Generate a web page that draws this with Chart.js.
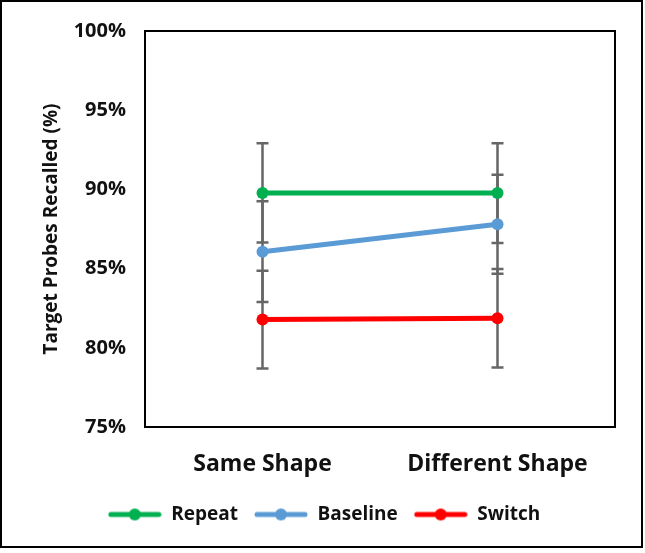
<!DOCTYPE html>
<html>
<head>
<meta charset="utf-8">
<script src="https://cdn.jsdelivr.net/npm/chart.js@4/dist/chart.umd.min.js"></script>
<style>
  html, body { margin: 0; padding: 0; background: #fff; }
  #wrap { width: 645px; height: 553px; }
</style>
</head>
<body>
<div id="wrap"><canvas id="recallChart" width="645" height="553"></canvas></div>
<script>
Chart.defaults.font.family = 'Open Sans';
Chart.defaults.font.weight = 'bold';
Chart.defaults.color = '#111';

const categories = ['Same Shape', 'Different Shape'];
const seriesNames = ['Repeat', 'Baseline', 'Switch'];
const seriesColors = ['#00b050', '#5b9bd5', '#ff0000'];

const repeatValues = [89.78, 89.77];
const baselineValues = [86.07, 87.8];
const switchValues = [81.78, 81.86];

const repeatErrors = [3.14, 3.15];
const baselineErrors = [3.18, 3.13];
const switchErrors = [3.09, 3.11];

const yTicks = [75, 80, 85, 90, 95, 100];

const allValues = [repeatValues, baselineValues, switchValues];
const allErrors = [repeatErrors, baselineErrors, switchErrors];

// legend marker: short line with a dot in the middle
function legendMarker(color) {
    const c = document.createElement('canvas');
    c.width = 54;
    c.height = 14;
    const g = c.getContext('2d');
    g.strokeStyle = color;
    g.lineWidth = 5;
    g.lineCap = 'round';
    g.beginPath();
    g.moveTo(3, 7);
    g.lineTo(51, 7);
    g.stroke();
    g.fillStyle = color;
    g.beginPath();
    g.arc(27, 7, 6, 0, Math.PI * 2);
    g.fill();
    return c;
}
const markers = seriesColors.map(legendMarker);

const errorBars = {
    id: 'errorBars',
    beforeDatasetsDraw(chart) {
        const ctx = chart.ctx;
        const y = chart.scales.y;
        ctx.save();
        ctx.strokeStyle = '#666';
        ctx.lineWidth = 2.5;
        chart.data.datasets.forEach((ds, i) => {
            const meta = chart.getDatasetMeta(i);
            meta.data.forEach((pt, j) => {
                const top = y.getPixelForValue(allValues[i][j] + allErrors[i][j]);
                const bot = y.getPixelForValue(allValues[i][j] - allErrors[i][j]);
                ctx.beginPath();
                ctx.moveTo(pt.x, top);
                ctx.lineTo(pt.x, bot);
                ctx.moveTo(pt.x - 6, top);
                ctx.lineTo(pt.x + 6, top);
                ctx.moveTo(pt.x - 6, bot);
                ctx.lineTo(pt.x + 6, bot);
                ctx.stroke();
            });
        });
        ctx.restore();
    }
};

const frames = {
    id: 'frames',
    beforeDraw(chart) {
        const ctx = chart.ctx;
        ctx.save();
        ctx.fillStyle = '#fff';
        ctx.fillRect(0, 0, chart.width, chart.height);
        ctx.strokeStyle = '#000';
        ctx.lineWidth = 2;
        ctx.strokeRect(1, 1, 641, 546);
        ctx.restore();
    },
    afterDraw(chart) {
        const a = chart.chartArea;
        const ctx = chart.ctx;
        ctx.save();
        ctx.strokeStyle = '#000';
        ctx.lineWidth = 2;
        ctx.strokeRect(a.left, a.top, a.right - a.left, a.bottom - a.top);
        ctx.restore();
    }
};

const ctx = document.getElementById('recallChart').getContext('2d');
new Chart(ctx, {
    type: 'line',
    data: {
        labels: categories,
        datasets: seriesNames.map((name, i) => ({
            label: name,
            data: allValues[i],
            borderColor: seriesColors[i],
            backgroundColor: seriesColors[i],
            borderWidth: 5,
            pointRadius: 6,
            pointHoverRadius: 6,
            pointBorderWidth: 0,
            tension: 0
        }))
    },
    options: {
        responsive: false,
        animation: false,
        layout: { padding: { left: 33, top: 29, right: 30, bottom: 19 } },
        scales: {
            x: {
                offset: true,
                grid: { display: false, drawTicks: false },
                border: { display: false },
                ticks: { padding: 24, font: { size: 23, weight: 'bold' } },
                afterFit: s => { s.height = 62; }
            },
            y: {
                min: 75,
                max: 100,
                afterBuildTicks: s => { s.ticks = yTicks.map(v => ({ value: v })); },
                grid: { display: false, drawTicks: false },
                border: { display: false },
                ticks: {
                    padding: 19,
                    font: { size: 20, weight: 'bold' },
                    callback: v => v + '%'
                },
                title: {
                    display: true,
                    text: 'Target Probes Recalled (%)',
                    font: { size: 19, weight: 'bold' },
                    padding: { top: 7, bottom: 0 }
                },
                afterFit: s => { s.width = 112; }
            }
        },
        plugins: {
            legend: {
                position: 'bottom',
                labels: {
                    usePointStyle: true,
                    pointStyleWidth: 54,
                    padding: 16,
                    font: { size: 19, weight: 'bold' },
                    generateLabels: chart => {
                        const items = Chart.defaults.plugins.legend.labels.generateLabels(chart);
                        items.forEach((it, i) => { it.pointStyle = markers[i]; });
                        return items;
                    }
                }
            },
            tooltip: { enabled: false }
        }
    },
    plugins: [frames, errorBars]
});
</script>
</body>
</html>
